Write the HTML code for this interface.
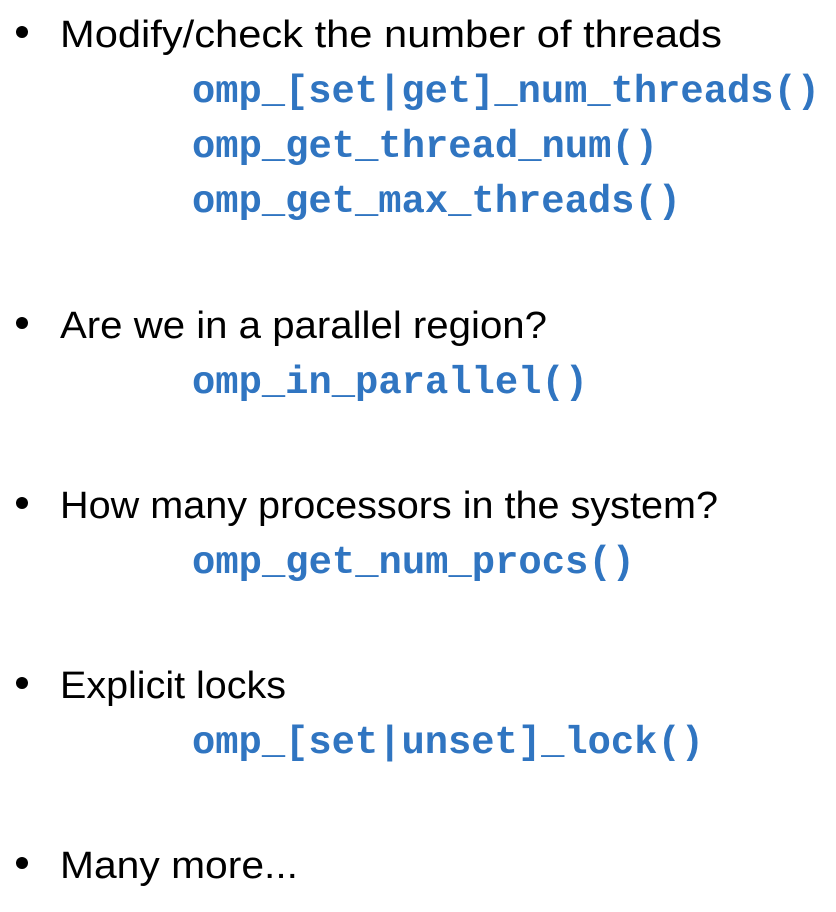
<!DOCTYPE html>
<html><head><meta charset="utf-8"><style>html,body{margin:0;padding:0;background:#fff}svg{display:block}</style></head>
<body>
<svg width="836" height="912" viewBox="0 0 836 912" xmlns="http://www.w3.org/2000/svg">
<g fill="#000">
<circle cx="22" cy="32" r="6"/>
<circle cx="22" cy="323" r="6"/>
<circle cx="22" cy="503" r="6"/>
<circle cx="22" cy="683" r="6"/>
<circle cx="22" cy="863" r="6"/>
</g>
<g font-family="Liberation Sans, sans-serif" font-size="38" fill="#000">
<text x="60" y="47" textLength="662" lengthAdjust="spacingAndGlyphs">Modify/check the number of threads</text>
<text x="60" y="338" textLength="487" lengthAdjust="spacingAndGlyphs">Are we in a parallel region?</text>
<text x="60" y="518" textLength="658" lengthAdjust="spacingAndGlyphs">How many processors in the system?</text>
<text x="60" y="698" textLength="226" lengthAdjust="spacingAndGlyphs">Explicit locks</text>
<text x="60" y="878" textLength="238" lengthAdjust="spacingAndGlyphs">Many more...</text>
</g>
<g font-family="Liberation Mono, monospace" font-weight="bold" font-size="38.8" fill="#3075C1">
<text x="192" y="102" textLength="628" lengthAdjust="spacingAndGlyphs">omp_[set|get]_num_threads()</text>
<text x="192" y="157" textLength="466" lengthAdjust="spacingAndGlyphs">omp_get_thread_num()</text>
<text x="192" y="212" textLength="489" lengthAdjust="spacingAndGlyphs">omp_get_max_threads()</text>
<text x="192" y="393" textLength="396" lengthAdjust="spacingAndGlyphs">omp_in_parallel()</text>
<text x="192" y="573" textLength="443" lengthAdjust="spacingAndGlyphs">omp_get_num_procs()</text>
<text x="192" y="753" textLength="512" lengthAdjust="spacingAndGlyphs">omp_[set|unset]_lock()</text>
</g>
</svg>
</body></html>
